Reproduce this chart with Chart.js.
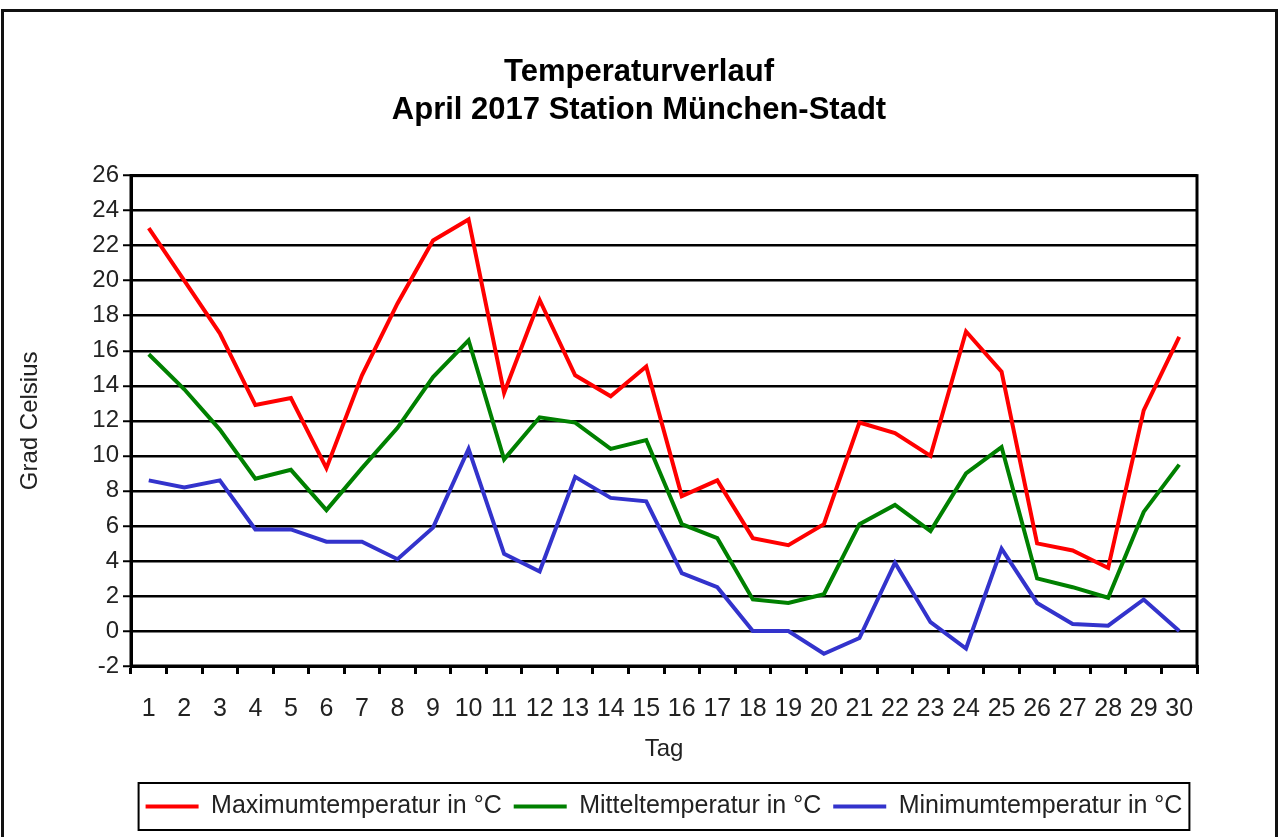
<!DOCTYPE html>
<html lang="de">
<head>
<meta charset="utf-8">
<title>Temperaturverlauf April 2017</title>
<script src="https://cdn.jsdelivr.net/npm/chart.js@4.4.0/dist/chart.umd.min.js"></script>
<style>
    html, body {
        margin: 0;
        padding: 0;
        background: #fff;
    }
    .frame {
        position: absolute;
        left: 1px;
        top: 9px;
        width: 1271px;
        height: 850px;
        border: 3px solid #111;
    }
    .chart-box {
        position: absolute;
        left: 0;
        top: 0;
        width: 1278px;
        height: 837px;
    }
</style>
</head>
<body>
<div class="frame"></div>
<div class="chart-box"><canvas id="chart-temp"></canvas></div>
<script>
// Days of April 2017
const days = ['1', '2', '3', '4', '5', '6', '7', '8', '9', '10', '11', '12', '13', '14', '15',
    '16', '17', '18', '19', '20', '21', '22', '23', '24', '25', '26', '27', '28', '29', '30'];

// Daily values in °C
const maxTemp = [23.0, 20.0, 17.0, 12.9, 13.3, 9.3, 14.6, 18.7, 22.3, 23.5, 13.6, 18.9, 14.6, 13.4, 15.1,
    7.7, 8.6, 5.3, 4.9, 6.1, 11.9, 11.3, 10.0, 17.1, 14.8, 5.0, 4.6, 3.6, 12.6, 16.8];
const meanTemp = [15.8, 13.8, 11.5, 8.7, 9.2, 6.9, 9.3, 11.6, 14.5, 16.6, 9.8, 12.2, 11.9, 10.4, 10.9,
    6.1, 5.3, 1.8, 1.6, 2.1, 6.1, 7.2, 5.7, 9.0, 10.5, 3.0, 2.5, 1.9, 6.8, 9.5];
const minTemp = [8.6, 8.2, 8.6, 5.8, 5.8, 5.1, 5.1, 4.1, 5.9, 10.4, 4.4, 3.4, 8.8, 7.6, 7.4,
    3.3, 2.5, 0.0, 0.0, -1.3, -0.4, 3.9, 0.5, -1.0, 4.7, 1.6, 0.4, 0.3, 1.8, 0.0];

const seriesLabels = ['Maximumtemperatur in °C', 'Mitteltemperatur in °C', 'Minimumtemperatur in °C'];
const titleLines = ['Temperaturverlauf', 'April 2017 Station München-Stadt'];
const yMin = -2;
const yMax = 26;
const yStep = 2;

Chart.defaults.font.family = '"Liberation Sans", Arial, sans-serif';
Chart.defaults.color = '#222';

// Frame round the plot area (top + right edges)
const plotBorder = {
    id: 'plotBorder',
    beforeDatasetsDraw(chart) {
        const { ctx, chartArea: a } = chart;
        ctx.save();
        ctx.strokeStyle = '#000';
        ctx.lineWidth = 3;
        ctx.strokeRect(a.left, a.top, a.right - a.left, a.bottom - a.top);
        ctx.restore();
    }
};

// Box round the legend entries
const legendFrame = {
    id: 'legendFrame',
    afterDraw(chart) {
        const boxes = chart.legend && chart.legend.legendHitBoxes;
        if (!boxes || !boxes.length) return;
        const left = Math.min(...boxes.map(b => b.left)) - 7;
        const right = Math.max(...boxes.map(b => b.left + b.width)) + 7;
        const top = Math.min(...boxes.map(b => b.top)) - 11;
        const bottom = Math.max(...boxes.map(b => b.top + b.height)) + 11;
        const { ctx } = chart;
        ctx.save();
        ctx.strokeStyle = '#000';
        ctx.lineWidth = 2;
        ctx.strokeRect(left, top, right - left, bottom - top);
        ctx.restore();
    }
};

const lineSet = (label, data, color) => ({
    label,
    data,
    borderColor: color,
    backgroundColor: color,
    borderWidth: 4,
    pointRadius: 0,
    pointHoverRadius: 0,
    tension: 0,
    fill: false
});

new Chart(document.getElementById('chart-temp'), {
    type: 'line',
    data: {
        labels: days,
        datasets: [
            lineSet(seriesLabels[0], maxTemp, '#ff0000'),
            lineSet(seriesLabels[1], meanTemp, '#008000'),
            lineSet(seriesLabels[2], minTemp, '#3333cc')
        ]
    },
    options: {
        responsive: true,
        maintainAspectRatio: false,
        animation: false,
        layout: {
            padding: { left: 10, right: 10, top: 0, bottom: 8 }
        },
        plugins: {
            title: {
                display: true,
                text: titleLines,
                color: '#000',
                font: { size: 31, weight: 'bold', lineHeight: 1.22 },
                padding: { top: 54, bottom: 46 }
            },
            legend: {
                position: 'bottom',
                fullSize: false,
                labels: {
                    color: '#222',
                    font: { size: 25 },
                    usePointStyle: true,
                    pointStyle: 'line',
                    pointStyleWidth: 53,
                    padding: 12
                }
            },
            tooltip: { enabled: false }
        },
        scales: {
            x: {
                offset: true,
                afterFit(scale) { scale.height = 116; },
                grid: {
                    offset: true,
                    drawOnChartArea: false,
                    drawTicks: true,
                    tickLength: 8,
                    color: '#000',
                    lineWidth: 3
                },
                border: { color: '#000', width: 3 },
                ticks: {
                    autoSkip: false,
                    maxRotation: 0,
                    padding: 20,
                    color: '#222',
                    font: { size: 25 }
                },
                title: {
                    display: true,
                    text: 'Tag',
                    color: '#222',
                    font: { size: 24 },
                    padding: { top: 0, bottom: 18 }
                }
            },
            y: {
                min: yMin,
                max: yMax,
                afterFit(scale) { scale.width = 121; },
                grid: {
                    color: '#000',
                    lineWidth: 2.5,
                    tickLength: 8,
                    tickColor: '#000',
                    tickWidth: 2
                },
                border: { color: '#000', width: 3 },
                ticks: {
                    stepSize: yStep,
                    padding: 4,
                    color: '#222',
                    font: { size: 24 }
                },
                title: {
                    display: true,
                    text: 'Grad Celsius',
                    color: '#222',
                    font: { size: 24 },
                    padding: { top: 6, bottom: 0 }
                }
            },
            // empty right-hand axis, only keeps the plot area off the right edge
            yPad: {
                type: 'linear',
                position: 'right',
                afterFit(scale) { scale.width = 71; },
                grid: { display: false },
                border: { display: false },
                ticks: { display: false }
            }
        }
    },
    plugins: [plotBorder, legendFrame]
});
</script>
</body>
</html>
